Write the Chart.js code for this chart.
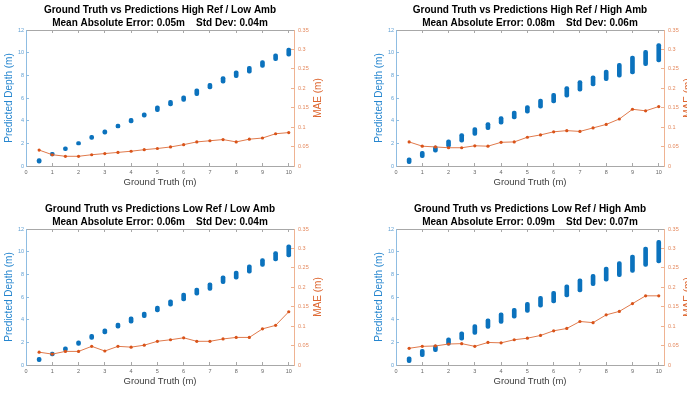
<!DOCTYPE html>
<html>
<head>
<meta charset="utf-8">
<script src="https://cdn.jsdelivr.net/npm/chart.js@4.4.1/dist/chart.umd.min.js"></script>
<style>
body{margin:0;background:#fff;width:687px;height:395px;overflow:hidden;position:relative;}
canvas{position:absolute;}
</style>
</head>
<body>
<canvas id="c1" width="350" height="197" style="left:0px;top:0px"></canvas>
<canvas id="c2" width="350" height="197" style="left:370px;top:0px"></canvas>
<canvas id="c3" width="350" height="197" style="left:0px;top:199px"></canvas>
<canvas id="c4" width="350" height="197" style="left:370px;top:199px"></canvas>
<script>
// ground truth distances (m)
const gt=[0.5,1,1.5,2,2.5,3,3.5,4,4.5,5,5.5,6,6.5,7,7.5,8,8.5,9,9.5,10];

// tick labels
const xTicks=[0,1,2,3,4,5,6,7,8,9,10];
const depthTicks=[0,2,4,6,8,10,12];
const maeTicks=[0,0.05,0.1,0.15,0.2,0.25,0.3,0.35];

// high ref / low amb
const loHRLA=[0.25,0.9,1.35,1.85,2.35,2.8,3.35,3.8,4.3,4.8,5.3,5.7,6.2,6.8,7.3,7.8,8.2,8.7,9.3,9.7];
const hiHRLA=[0.65,1.2,1.7,2.15,2.7,3.2,3.7,4.2,4.7,5.3,5.8,6.2,6.8,7.3,7.9,8.4,8.8,9.3,9.9,10.4];
const maeHRLA=[0.041,0.029,0.025,0.025,0.029,0.032,0.035,0.038,0.042,0.045,0.049,0.055,0.062,0.065,0.068,0.062,0.069,0.072,0.083,0.086];

// high ref / high amb
const loHRHA=[0.2,0.73,1.23,1.67,2.1,2.7,3.2,3.7,4.16,4.66,5.1,5.57,6.07,6.6,7.07,7.54,7.83,8.12,8.86,9.18];
const hiHRHA=[0.73,1.3,1.76,2.3,2.85,3.4,3.84,4.37,4.84,5.34,5.9,6.42,7.0,7.54,7.95,8.47,9.06,9.7,10.2,10.8];
const maeHRHA=[0.062,0.051,0.049,0.047,0.047,0.052,0.051,0.061,0.062,0.074,0.080,0.088,0.091,0.089,0.098,0.107,0.121,0.146,0.142,0.153];

// low ref / low amb
const loLRLA=[0.3,0.8,1.23,1.73,2.25,2.75,3.25,3.7,4.18,4.68,5.18,5.65,6.17,6.58,7.17,7.58,8.1,8.69,9.19,9.54];
const hiLRLA=[0.67,1.14,1.6,2.14,2.7,3.2,3.7,4.24,4.68,5.2,5.74,6.35,6.79,7.26,7.86,8.28,8.84,9.39,10.0,10.6];
const maeLRLA=[0.033,0.028,0.035,0.035,0.048,0.036,0.048,0.046,0.051,0.061,0.065,0.070,0.061,0.061,0.067,0.071,0.071,0.093,0.102,0.137];

// low ref / high amb
const loLRHA=[0.2,0.73,1.17,1.76,2.2,2.7,3.22,3.66,4.13,4.65,5.1,5.47,6.0,6.44,7.0,7.4,7.8,8.17,8.7,9.0];
const hiLRHA=[0.73,1.38,1.76,2.4,2.93,3.57,4.07,4.6,5.0,5.53,6.06,6.5,7.08,7.6,8.0,8.63,9.13,9.7,10.4,11.0];
const maeLRHA=[0.043,0.048,0.049,0.054,0.055,0.048,0.058,0.057,0.065,0.069,0.076,0.088,0.094,0.112,0.109,0.129,0.138,0.158,0.178,0.178];

Chart.defaults.font.family="'Liberation Sans', Arial, sans-serif";

const blue='#0b72bd';
const orange='#d95319';

function setTicks(arr){
	return function(scale){
		scale.ticks=arr.map(function(v){return {value:v};});
	};
}

// right axis title reads bottom-to-top like the left one
const maeTitle={
	id:'maeTitle',
	afterDraw:function(chart){
		const a=chart.chartArea;
		const ctx=chart.ctx;
		ctx.save();
		ctx.translate(a.right+24,(a.top+a.bottom)/2);
		ctx.rotate(-Math.PI/2);
		ctx.textAlign='center';
		ctx.textBaseline='middle';
		ctx.font="10px 'Liberation Sans', Arial, sans-serif";
		ctx.fillStyle='#dd6630';
		ctx.fillText('MAE (m)',0,0);
		ctx.restore();
	}
};

function makeChart(id,title,sub,lo,hi,mae){
	let bars=[];
	let pts=[];
	for(let i=0;i<gt.length;i++){
		bars.push({x:gt[i],y:[lo[i],hi[i]]});
		pts.push({x:gt[i],y:mae[i]});
	}
	return new Chart(document.getElementById(id),{
		type:'bar',
		data:{
			datasets:[{
				type:'line',
				data:pts,
				yAxisID:'y1',
				borderColor:'#e07a4c',
				borderWidth:1,
				pointRadius:1.6,
				pointBackgroundColor:orange,
				pointBorderWidth:0,
				order:0
			},{
				type:'bar',
				data:bars,
				yAxisID:'y',
				backgroundColor:blue,
				barThickness:4,
				borderRadius:2,
				borderSkipped:false,
				order:1
			}]
		},
		plugins:[maeTitle],
		options:{
			responsive:false,
			animation:false,
			layout:{padding:0},
			plugins:{
				legend:{display:false},
				tooltip:{enabled:false},
				title:{
					display:true,
					fullSize:false,
					text:[title,sub],
					color:'#000',
					font:{size:10,weight:'bold',lineHeight:1.3},
					padding:{top:4,bottom:0}
				}
			},
			scales:{
				x:{
					type:'linear',min:0,max:10.2,offset:false,
					afterBuildTicks:setTicks(xTicks),
					afterFit:function(s){s.height=31;},
					grid:{offset:false,drawOnChartArea:false,tickLength:-3,color:'#a8a8a8'},
					border:{color:'#a8a8a8'},
					ticks:{color:'#666',font:{size:5.5},padding:6.3,maxRotation:0},
					title:{display:true,text:'Ground Truth (m)',color:'#404040',font:{size:9.5},padding:{top:0,bottom:8.6}}
				},
				xTop:{
					type:'linear',position:'top',min:0,max:10.2,offset:false,
					afterBuildTicks:setTicks(xTicks),
					afterFit:function(s){s.height=0;},
					grid:{offset:false,drawOnChartArea:false,tickLength:-3,color:'#a8a8a8'},
					border:{color:'#a8a8a8'},
					ticks:{display:false}
				},
				y:{
					type:'linear',position:'left',min:0,max:12,
					afterBuildTicks:setTicks(depthTicks),
					afterFit:function(s){s.width=26;},
					grid:{drawOnChartArea:false,tickLength:-3,color:'#8fbde2'},
					border:{color:'#8fbde2'},
					ticks:{color:'#5f9fd3',font:{size:5.5},padding:5},
					title:{display:true,text:'Predicted Depth (m)',color:'#2686cf',font:{size:10},padding:{top:3,bottom:0}}
				},
				y1:{
					type:'linear',position:'right',min:0,max:0.35,
					afterBuildTicks:setTicks(maeTicks),
					afterFit:function(s){s.width=56;},
					grid:{drawOnChartArea:false,tickLength:-3,color:'#efb392'},
					border:{color:'#efb392'},
					ticks:{color:'#e4895e',font:{size:5.5},padding:7,callback:function(v){return String(+v.toFixed(2));}},
					title:{display:false}
				}
			}
		}
	});
}

makeChart('c1','Ground Truth vs Predictions High Ref / Low Amb','Mean Absolute Error: 0.05m    Std Dev: 0.04m',loHRLA,hiHRLA,maeHRLA);
makeChart('c2','Ground Truth vs Predictions High Ref / High Amb','Mean Absolute Error: 0.08m    Std Dev: 0.06m',loHRHA,hiHRHA,maeHRHA);
makeChart('c3','Ground Truth vs Predictions Low Ref / Low Amb','Mean Absolute Error: 0.06m    Std Dev: 0.04m',loLRLA,hiLRLA,maeLRLA);
makeChart('c4','Ground Truth vs Predictions Low Ref / High Amb','Mean Absolute Error: 0.09m    Std Dev: 0.07m',loLRHA,hiLRHA,maeLRHA);
</script>
</body>
</html>
